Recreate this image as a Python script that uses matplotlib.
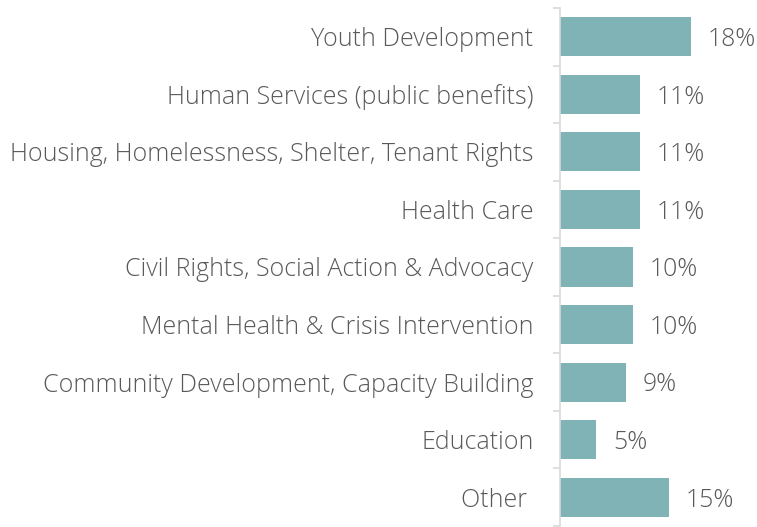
import numpy as np
import matplotlib
matplotlib.use("Agg")
from matplotlib import pyplot as plt

categories = [
    "Youth Development",
    "Human Services (public benefits)",
    "Housing, Homelessness, Shelter, Tenant Rights",
    "Health Care",
    "Civil Rights, Social Action & Advocacy",
    "Mental Health & Crisis Intervention",
    "Community Development, Capacity Building",
    "Education",
    "Other ",
]
values = [18, 11, 11, 11, 10, 10, 9, 5, 15]
labels = ["18%", "11%", "11%", "11%", "10%", "10%", "9%", "5%", "15%"]

bar_color = "#7FB3B5"
text_color = "#595959"
axis_color = "#D9D9D9"

plt.rcParams["font.family"] = ["Open Sans", "DejaVu Sans"]

fig = plt.figure(figsize=(7.57, 5.27), dpi=100)
ax = fig.add_axes([560 / 757, 1 - 526 / 527, 197 / 757, 518 / 527])

y = np.arange(len(categories))
ax.barh(y, values, height=0.68, color=bar_color)
ax.set_ylim(len(categories) - 0.5, -0.5)
ax.set_xlim(0, 197 / 7.28)

for yi, v, lab in zip(y, values, labels):
    ax.text(v + 2.3, yi + 0.05, lab, va="center", ha="left",
            fontsize=17.8, color=text_color, fontweight="light")

ax.set_yticks(y)
ax.set_yticklabels(categories, fontsize=18, color=text_color, fontweight="light")
ax.set_yticks(np.arange(len(categories) + 1) - 0.5, minor=True)
ax.tick_params(axis="y", which="major", length=0, pad=19)
ax.tick_params(axis="y", which="minor", length=5, color=axis_color, width=1.2)
ax.set_xticks([])

for s in ["top", "right", "bottom"]:
    ax.spines[s].set_visible(False)
ax.spines["left"].set_color(axis_color)
ax.spines["left"].set_linewidth(1.2)

fig.savefig("out.png", dpi=100)
